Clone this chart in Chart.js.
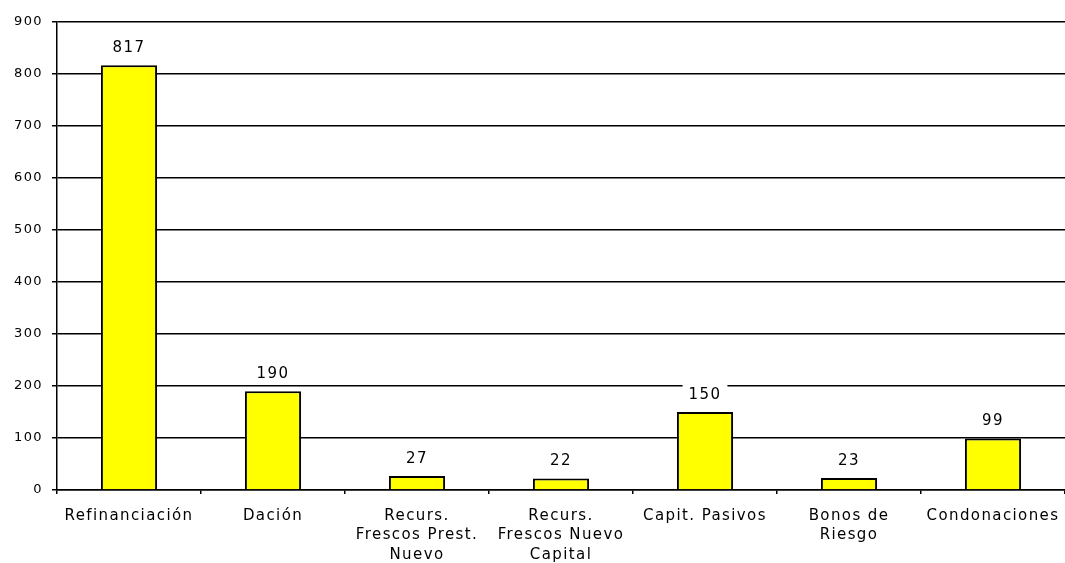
<!DOCTYPE html>
<html>
<head>
<meta charset="utf-8">
<script src="https://cdn.jsdelivr.net/npm/chart.js@4/dist/chart.umd.min.js"></script>
<style>
  html, body { margin: 0; padding: 0; background: #fff; }
  #wrap { width: 1065px; height: 563px; position: relative; }
</style>
</head>
<body>
<div id="wrap"><canvas id="c"></canvas></div>
<script>
const categories = [
  'Refinanciación',
  'Dación',
  ['Recurs.', 'Frescos Prest.', 'Nuevo'],
  ['Recurs.', 'Frescos Nuevo', 'Capital'],
  'Capit. Pasivos',
  ['Bonos de', 'Riesgo'],
  'Condonaciones'
];
const values = [817, 190, 27, 22, 150, 23, 99];
const yMin = 0;
const yMax = 900;
const yStep = 100;

const FONT = '"DejaVu Sans", sans-serif';
const LETTER_SPACING = '1.4px';

// Wider glyph spacing for all canvas text
const spacing = {
  id: 'spacing',
  beforeLayout(chart) { chart.ctx.letterSpacing = LETTER_SPACING; },
  beforeDraw(chart) { chart.ctx.letterSpacing = LETTER_SPACING; }
};

// Value above each bar, on a white box
const valueLabels = {
  id: 'valueLabels',
  afterDatasetsDraw(chart) {
    const ctx = chart.ctx;
    const meta = chart.getDatasetMeta(0);
    ctx.save();
    ctx.letterSpacing = LETTER_SPACING;
    ctx.font = '15px ' + FONT;
    ctx.textAlign = 'center';
    ctx.textBaseline = 'middle';
    meta.data.forEach((bar, i) => {
      const txt = String(chart.data.datasets[0].data[i]);
      const w = ctx.measureText(txt).width;
      const y = bar.y - 17;
      ctx.fillStyle = '#fff';
      ctx.fillRect(bar.x - w / 2 - 6, y - 11, w + 12, 20);
      ctx.fillStyle = '#000';
      ctx.fillText(txt, bar.x, y);
    });
    ctx.restore();
  }
};

new Chart(document.getElementById('c'), {
  type: 'bar',
  data: {
    labels: categories,
    datasets: [{
      data: values,
      backgroundColor: '#ffff00',
      borderColor: '#000',
      borderWidth: 2,
      barPercentage: 0.39,
      categoryPercentage: 1
    }]
  },
  options: {
    responsive: true,
    maintainAspectRatio: false,
    animation: false,
    layout: { padding: { top: 22, left: 0, right: 0, bottom: 0 } },
    plugins: {
      legend: { display: false },
      tooltip: { enabled: false }
    },
    scales: {
      x: {
        offset: true,
        grid: { drawOnChartArea: false, color: '#000', lineWidth: 1.5, tickLength: 4 },
        border: { color: '#000', width: 1.5 },
        ticks: {
          color: '#000',
          font: { family: FONT, size: 15, lineHeight: 1.3 },
          padding: 12,
          maxRotation: 0,
          autoSkip: false
        },
        afterFit(scale) {
          scale.height = 73;
          scale.paddingLeft = 0;
          scale.paddingRight = 0;
        }
      },
      y: {
        min: yMin,
        max: yMax,
        grid: { color: '#000', lineWidth: 1.5, tickLength: 5 },
        border: { color: '#000', width: 1.5 },
        ticks: {
          stepSize: yStep,
          color: '#000',
          font: { family: FONT, size: 13 },
          padding: 9
        },
        afterFit(scale) { scale.width = 57; }
      }
    }
  },
  plugins: [spacing, valueLabels]
});
</script>
</body>
</html>
